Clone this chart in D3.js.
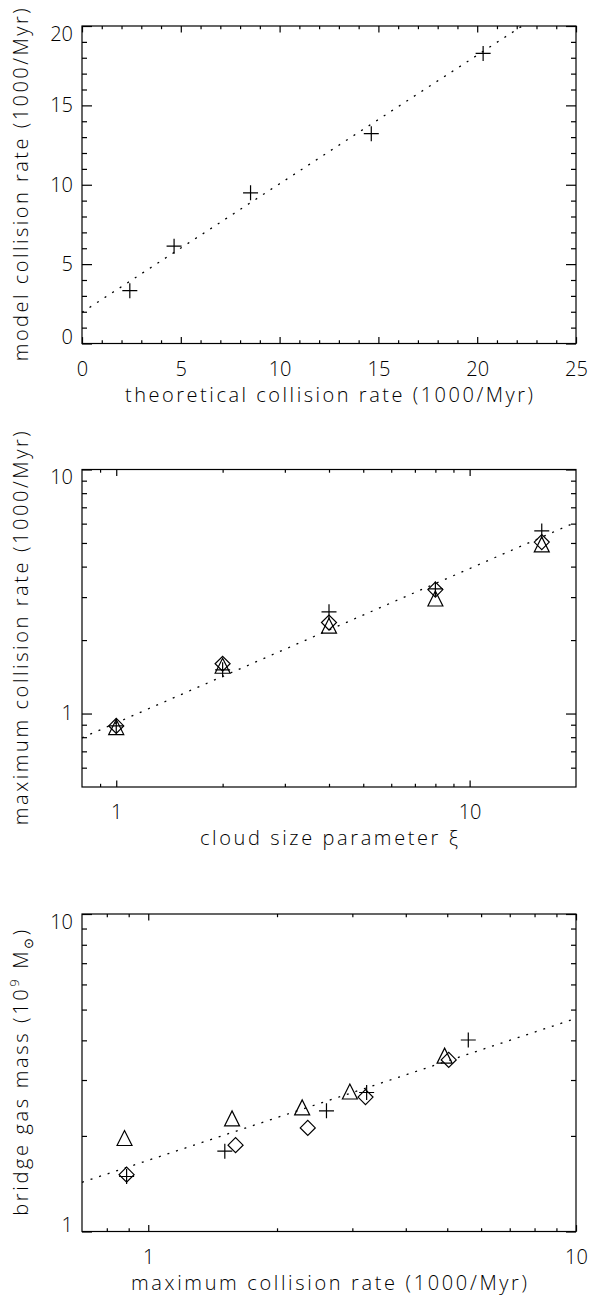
<!DOCTYPE html>
<html lang="en">
<head>
	<meta charset="UTF-8">
	<title>Collision rates</title>
	<style>
		body { margin: 0; background: #fff; }
		svg text { font-family: "Open Sans", "DejaVu Sans", sans-serif; font-weight: 300; fill: #000; }
	</style>
</head>
<body>
	<svg id="chart" width="591" height="1297"></svg>
	<script src="https://cdn.jsdelivr.net/npm/d3@7/dist/d3.min.js"></script>
	<script>
		// top panel: model vs theoretical collision rate (1000/Myr)
		var theoRate = [2.42, 4.66, 8.53, 14.64, 20.3];
		var modelRate = [3.33, 6.13, 9.49, 13.22, 18.27];
		var fitTop = [1.96, 0.81];          // intercept, slope

		// middle and bottom panels, one array per symbol
		var xi = [1, 2, 4, 8, 16];
		var maxRatePlus = [0.89, 1.51, 2.61, 3.24, 5.60];
		var maxRateDiamond = [0.89, 1.60, 2.36, 3.22, 5.04];
		var maxRateTriangle = [0.88, 1.57, 2.29, 2.96, 4.93];
		var massPlus = [1.49, 1.79, 2.40, 2.74, 4.01];
		var massDiamond = [1.51, 1.87, 2.12, 2.65, 3.47];
		var massTriangle = [1.97, 2.27, 2.46, 2.76, 3.58];
		var fitMid = [0.916, 0.632];        // y = a * x^b
		var fitBot = [1.676, 0.447];

		// tick values
		var linXMajor = [0, 5, 10, 15, 20, 25];
		var linYMajor = [0, 5, 10, 15, 20];
		var logMajor = [1, 10];
		var decadeMinor = [2, 3, 4, 5, 6, 7, 8, 9];

		var left = 82, right = 576, ph = 317.5;
		var tops = [26, 469.5, 914];
		var svg = d3.select("#chart");

		var symbols = {
			plus: "M-7.5,0H7.5M0,-7.5V7.5",
			diamond: "M-7.5,0L0,-7.5L7.5,0L0,7.5Z",
			triangle: "M-7.5,7.5L0,-7.5L7.5,7.5Z"
		};

		function styleAxis(g) {
			g.select(".domain").remove();
			g.attr("font-size", 20).attr("font-family", null);
			g.selectAll("line").attr("stroke-width", 1.2);
		}

		// draws frame, mirrored ticks and tick labels of one panel
		function drawAxes(g, x, y, xMajor, xMinor, yMajor, yMinor) {
			var w = right - left;
			g.append("g").attr("transform", "translate(0," + ph + ")")
				.call(d3.axisBottom(x).tickValues(xMajor).tickFormat(d3.format("d")).tickSize(-6.4).tickPadding(18))
				.call(styleAxis);
			g.append("g").attr("transform", "translate(0," + ph + ")")
				.call(d3.axisBottom(x).tickValues(xMinor).tickFormat("").tickSize(-3.2))
				.call(styleAxis);
			g.append("g")
				.call(d3.axisTop(x).tickValues(xMajor).tickFormat("").tickSize(-6.4))
				.call(styleAxis);
			g.append("g")
				.call(d3.axisTop(x).tickValues(xMinor).tickFormat("").tickSize(-3.2))
				.call(styleAxis);

			var yDom = y.domain();
			g.append("g")
				.call(d3.axisLeft(y).tickValues(yMajor).tickFormat(d3.format("d")).tickSize(-10).tickPadding(9))
				.call(styleAxis)
				.selectAll("text")
				.attr("dy", function(d) {
					// labels at the frame edges stay inside the frame height
					if (d === yDom[1]) return "0.71em";
					if (d === yDom[0]) return "0em";
					return "0.32em";
				});
			g.append("g")
				.call(d3.axisLeft(y).tickValues(yMinor).tickFormat("").tickSize(-5))
				.call(styleAxis);
			g.append("g").attr("transform", "translate(" + w + ",0)")
				.call(d3.axisRight(y).tickValues(yMajor).tickFormat("").tickSize(-10))
				.call(styleAxis);
			g.append("g").attr("transform", "translate(" + w + ",0)")
				.call(d3.axisRight(y).tickValues(yMinor).tickFormat("").tickSize(-5))
				.call(styleAxis);

			g.append("rect")
				.attr("width", w).attr("height", ph)
				.attr("fill", "none").attr("stroke", "#000").attr("stroke-width", 1.2);
		}

		function titles(g, xTitle, xLen, yTitle, yLen) {
			var w = right - left;
			g.append("text")
				.attr("x", w / 2).attr("y", ph + 58)
				.attr("text-anchor", "middle").attr("font-size", 20)
				.attr("textLength", xLen).attr("lengthAdjust", "spacing")
				.text(xTitle);
			var t = g.append("text")
				.attr("transform", "translate(" + (28 - left) + "," + (ph / 2) + ") rotate(-90)")
				.attr("text-anchor", "middle").attr("font-size", 20)
				.attr("textLength", yLen).attr("lengthAdjust", "spacing");
			if (typeof yTitle === "string") t.text(yTitle);
			else yTitle(t);
		}

		function drawPoints(g, xs, ys, x, y, sym) {
			g.selectAll(null).data(xs).enter().append("path")
				.attr("transform", function(d, i) { return "translate(" + x(d) + "," + y(ys[i]) + ")"; })
				.attr("d", symbols[sym])
				.attr("fill", "none").attr("stroke", "#000").attr("stroke-width", 1.2);
		}

		function drawFit(g, pts, x, y) {
			g.append("path")
				.datum(pts)
				.attr("d", d3.line().x(function(d) { return x(d[0]); }).y(function(d) { return y(d[1]); }))
				.attr("fill", "none").attr("stroke", "#000")
				.attr("stroke-width", 1.3).attr("stroke-dasharray", "2,7");
		}

		// ---- top panel ----
		var g1 = svg.append("g").attr("transform", "translate(" + left + "," + tops[0] + ")");
		var x1 = d3.scaleLinear().domain([0, 25]).range([0, right - left]);
		var y1 = d3.scaleLinear().domain([0, 20]).range([ph, 0]);
		drawAxes(g1, x1, y1, linXMajor, d3.range(1, 25).filter(function(v) { return v % 5; }),
			linYMajor, d3.range(1, 20).filter(function(v) { return v % 5; }));
		var xEnd = Math.min(25, (20 - fitTop[0]) / fitTop[1]);
		drawFit(g1, [[0, fitTop[0]], [xEnd, fitTop[0] + fitTop[1] * xEnd]], x1, y1);
		drawPoints(g1, theoRate, modelRate, x1, y1, "plus");
		titles(g1, "theoretical collision rate (1000/Myr)", 408, "model collision rate (1000/Myr)", 353);

		// ---- middle panel ----
		var g2 = svg.append("g").attr("transform", "translate(" + left + "," + tops[1] + ")");
		var x2 = d3.scaleLog().domain([0.8, 20]).range([0, right - left]);
		var y2 = d3.scaleLog().domain([0.5, 10]).range([ph, 0]);
		drawAxes(g2, x2, y2, logMajor, [0.9].concat(decadeMinor),
			logMajor, [0.6, 0.7, 0.8, 0.9].concat(decadeMinor));
		drawFit(g2, x2.domain().map(function(v) { return [v, fitMid[0] * Math.pow(v, fitMid[1])]; }), x2, y2);
		drawPoints(g2, xi, maxRateTriangle, x2, y2, "triangle");
		drawPoints(g2, xi, maxRateDiamond, x2, y2, "diamond");
		drawPoints(g2, xi, maxRatePlus, x2, y2, "plus");
		titles(g2, "cloud size parameter \u03be", 258, "maximum collision rate (1000/Myr)", 394);

		// ---- bottom panel ----
		var g3 = svg.append("g").attr("transform", "translate(" + left + "," + tops[2] + ")");
		var x3 = d3.scaleLog().domain([0.7, 10]).range([0, right - left]);
		var y3 = d3.scaleLog().domain([1, 10]).range([ph, 0]);
		drawAxes(g3, x3, y3, logMajor, [0.8, 0.9].concat(decadeMinor), logMajor, decadeMinor);
		drawFit(g3, x3.domain().map(function(v) { return [v, fitBot[0] * Math.pow(v, fitBot[1])]; }), x3, y3);
		drawPoints(g3, maxRateTriangle, massTriangle, x3, y3, "triangle");
		drawPoints(g3, maxRateDiamond, massDiamond, x3, y3, "diamond");
		drawPoints(g3, maxRatePlus, massPlus, x3, y3, "plus");
		titles(g3, "maximum collision rate (1000/Myr)", 396, function(t) {
			t.append("tspan").text("bridge gas mass (10");
			t.append("tspan").attr("font-size", 13).attr("dy", -9).text("9");
			t.append("tspan").attr("dy", 9).text(" M");
			t.append("tspan").attr("font-size", 13).attr("dy", 5).text("\u2299");
			t.append("tspan").attr("dy", -5).text(")");
		}, 286);
	</script>
</body>
</html>
